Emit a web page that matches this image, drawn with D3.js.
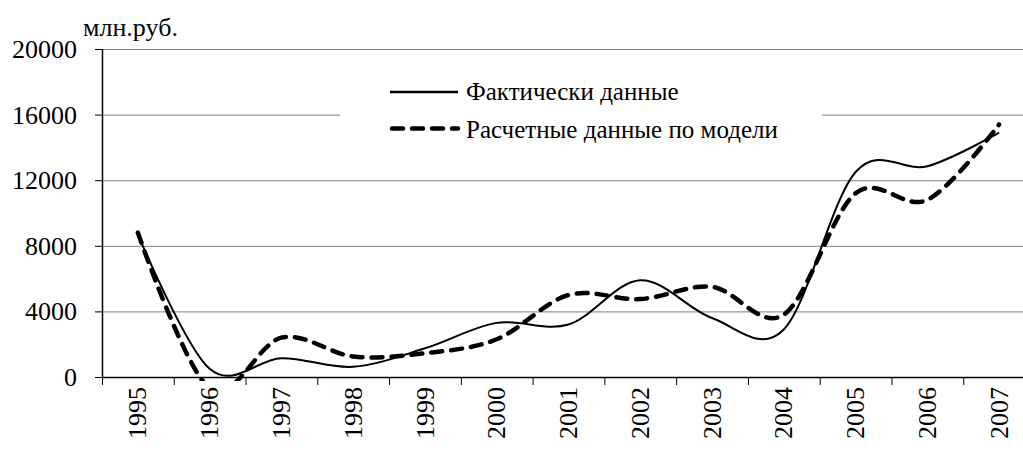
<!DOCTYPE html>
<html>
<head>
<meta charset="utf-8">
<script src="https://cdn.jsdelivr.net/npm/d3@7"></script>
<style>
  html, body { margin: 0; padding: 0; background: #fff; }
  svg { display: block; }
</style>
</head>
<body>
<svg id="chart" width="1023" height="454"></svg>
<script>
// data
const years = ["1995", "1996", "1997", "1998", "1999", "2000", "2001", "2002", "2003", "2004", "2005", "2006", "2007"];
const actual = [8700, 500, 1150, 620, 1750, 3300, 3200, 5900, 3600, 2900, 12500, 12850, 14900];
const model = [8800, -700, 2400, 1250, 1450, 2300, 5000, 4750, 5500, 3800, 11200, 10800, 15400];
const yTicks = [0, 4000, 8000, 12000, 16000, 20000];
const legendLabels = ["Фактически данные", "Расчетные данные по модели"];
const unitLabel = "млн.руб.";

const W = 1023, H = 454;
const plotLeft = 102, plotTop = 49, plotBottom = 377;
const font = "Liberation Serif";
const svg = d3.select("#chart");

const x = d3.scaleBand().domain(years).range([plotLeft, 1035]);
const y = d3.scaleLinear().domain([0, 20000]).range([plotBottom, plotTop]);

// gridlines
svg.append("g").selectAll("line").data(yTicks.filter(d => d > 0)).join("line")
  .attr("x1", plotLeft).attr("x2", W)
  .attr("y1", d => y(d) + 0.5).attr("y2", d => y(d) + 0.5)
  .attr("stroke", "#808080").attr("stroke-width", 1);

// legend box (covers the gridline)
svg.append("rect").attr("x", 340).attr("y", 62).attr("width", 482).attr("height", 86).attr("fill", "#fff");

// y axis
const yAxis = svg.append("g").attr("transform", `translate(${plotLeft},0)`)
  .call(d3.axisLeft(y).tickValues(yTicks).tickSize(7).tickPadding(18).tickFormat(d3.format("d")));
yAxis.attr("font-family", font).attr("font-size", 26);
yAxis.select(".domain").remove();
yAxis.selectAll(".tick line").attr("stroke", "#000");
yAxis.selectAll("text").attr("dy", "0.33em").attr("fill", "#000");
svg.append("line").attr("x1", plotLeft + 0.5).attr("x2", plotLeft + 0.5).attr("y1", plotTop).attr("y2", plotBottom + 1)
  .attr("stroke", "#000").attr("stroke-width", 1.5);

// x axis
svg.append("line").attr("x1", plotLeft).attr("x2", W).attr("y1", plotBottom + 0.5).attr("y2", plotBottom + 0.5)
  .attr("stroke", "#000").attr("stroke-width", 1.5);
svg.append("g").selectAll("line").data(years).join("line")
  .attr("x1", d => x(d) + 0.5).attr("x2", d => x(d) + 0.5)
  .attr("y1", plotBottom).attr("y2", plotBottom + 8)
  .attr("stroke", "#000");
svg.append("g").attr("font-family", font).attr("font-size", 26)
  .selectAll("text").data(years).join("text")
  .attr("transform", d => `translate(${x(d) + x.bandwidth() / 2},${plotBottom + 10}) rotate(-90)`)
  .attr("text-anchor", "end").attr("dy", "0.33em")
  .text(d => d);

// unit label
svg.append("text").attr("x", 83).attr("y", 36)
  .attr("font-family", font).attr("font-size", 26).text(unitLabel);

// lines
svg.append("clipPath").attr("id", "plot").append("rect")
  .attr("x", plotLeft).attr("y", 0).attr("width", W - plotLeft).attr("height", plotBottom + 4);

const line = d3.line()
  .x((d, i) => x(years[i]) + x.bandwidth() / 2)
  .y(d => y(d))
  .curve(d3.curveCatmullRom.alpha(0));

const plot = svg.append("g").attr("clip-path", "url(#plot)");
plot.append("path").datum(actual).attr("d", line)
  .attr("fill", "none").attr("stroke", "#000").attr("stroke-width", 2);
plot.append("path").datum(model).attr("d", line)
  .attr("fill", "none").attr("stroke", "#000").attr("stroke-width", 4.5)
  .attr("stroke-dasharray", "11,9").attr("stroke-linecap", "round");

// legend
const legend = svg.append("g").attr("font-family", font).attr("font-size", 25);
legend.append("line").attr("x1", 390).attr("x2", 458).attr("y1", 92).attr("y2", 92)
  .attr("stroke", "#000").attr("stroke-width", 2.5);
legend.append("line").attr("x1", 392).attr("x2", 458).attr("y1", 128.5).attr("y2", 128.5)
  .attr("stroke", "#000").attr("stroke-width", 4.5)
  .attr("stroke-dasharray", "11,9").attr("stroke-linecap", "round");
legend.selectAll("text").data(legendLabels).join("text")
  .attr("x", 466).attr("y", (d, i) => 100 + i * 37.5)
  .text(d => d);
</script>
</body>
</html>
